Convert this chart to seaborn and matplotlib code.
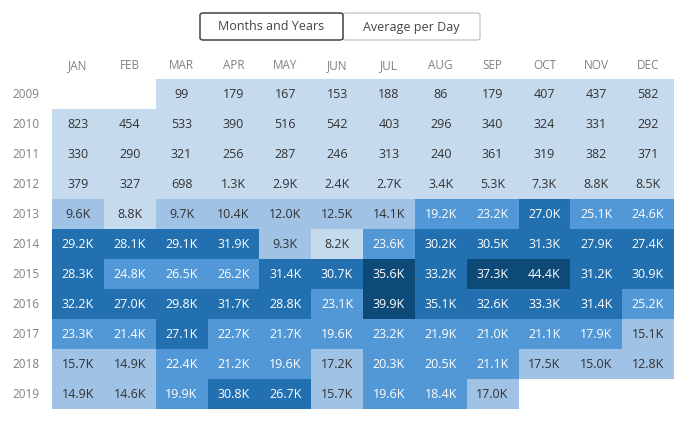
import numpy as np
import pandas as pd
import matplotlib
matplotlib.use("Agg")
import matplotlib.pyplot as plt
from matplotlib.colors import ListedColormap, BoundaryNorm
from matplotlib.patches import FancyBboxPatch
import seaborn as sns

months = ["JAN", "FEB", "MAR", "APR", "MAY", "JUN", "JUL", "AUG", "SEP", "OCT", "NOV", "DEC"]
years = ["2009", "2010", "2011", "2012", "2013", "2014", "2015", "2016", "2017", "2018", "2019"]
nan = np.nan
v2009 = [nan, nan, 99, 179, 167, 153, 188, 86, 179, 407, 437, 582]
v2010 = [823, 454, 533, 390, 516, 542, 403, 296, 340, 324, 331, 292]
v2011 = [330, 290, 321, 256, 287, 246, 313, 240, 361, 319, 382, 371]
v2012 = [379, 327, 698, 1300, 2900, 2400, 2700, 3400, 5300, 7300, 8800, 8500]
v2013 = [9600, 8800, 9700, 10400, 12000, 12500, 14100, 19200, 23200, 27000, 25100, 24600]
v2014 = [29200, 28100, 29100, 31900, 9300, 8200, 23600, 30200, 30500, 31300, 27900, 27400]
v2015 = [28300, 24800, 26500, 26200, 31400, 30700, 35600, 33200, 37300, 44400, 31200, 30900]
v2016 = [32200, 27000, 29800, 31700, 28800, 23100, 39900, 35100, 32600, 33300, 31400, 25200]
v2017 = [23300, 21400, 27100, 22700, 21700, 19600, 23200, 21900, 21000, 21100, 17900, 15100]
v2018 = [15700, 14900, 22400, 21200, 19600, 17200, 20300, 20500, 21100, 17500, 15000, 12800]
v2019 = [14900, 14600, 19900, 30800, 26700, 15700, 19600, 18400, 17000, nan, nan, nan]

df = pd.DataFrame([v2009, v2010, v2011, v2012, v2013, v2014, v2015, v2016,
                   v2017, v2018, v2019], index=years, columns=months)

palette = ["#c6daee", "#9fc2e5", "#5297d6", "#2270b0", "#0e4a78"]
vmax = np.nanmax(df.values)
bounds = np.linspace(0, vmax, 6)
cmap = ListedColormap(palette)
norm = BoundaryNorm(bounds, cmap.N, clip=True)

def fmt(v):
    if v >= 1000:
        return f"{v / 1000:.1f}K"
    return f"{int(v)}"

plt.rcParams["font.family"] = ["Open Sans", "DejaVu Sans"]
W, H = 683, 428
fig = plt.figure(figsize=(W / 100, H / 100), dpi=100)
ax = fig.add_axes([52 / W, 1 - 409 / H, (674 - 52) / W, (409 - 79) / H])

sns.heatmap(df, cmap=cmap, norm=norm, cbar=False, mask=df.isna(),
            linewidths=0, ax=ax)

for i, y in enumerate(years):
    for j, m in enumerate(months):
        v = df.loc[y, m]
        if np.isnan(v):
            continue
        lvl = np.searchsorted(bounds, v, side="right") - 1
        col = "white" if lvl >= 2 else "#333333"
        ax.text(j + 0.5, i + 0.5, fmt(v), ha="center", va="center",
                fontsize=9, color=col)

ax.xaxis.tick_top()
ax.set_xticks(np.arange(12) + 0.5)
ax.set_xticklabels(months, fontsize=8.5, color="#808080")
ax.set_yticks(np.arange(11) + 0.5)
ax.set_yticklabels(years, fontsize=8.5, color="#808080", rotation=0)
ax.tick_params(axis="x", length=0, pad=5)
ax.tick_params(axis="y", length=0, pad=9)
ax.set_xlabel("")
ax.set_ylabel("")

# toggle buttons
def button(x0, x1, label, edge, lw):
    p = FancyBboxPatch((x0 / W, 1 - 40 / H), (x1 - x0) / W, 27 / H,
                       boxstyle="round,pad=0,rounding_size=0.005",
                       transform=fig.transFigure, facecolor="white",
                       edgecolor=edge, linewidth=lw)
    fig.patches.append(p)
    fig.text((x0 + x1) / 2 / W, 1 - 27 / H, label, ha="center", va="center",
             fontsize=9, color="#444444")

button(343, 480, "Average per Day", "#c8c8c8", 1)
button(200, 343, "Months and Years", "#444444", 1.1)

fig.savefig("out.png", dpi=100)
